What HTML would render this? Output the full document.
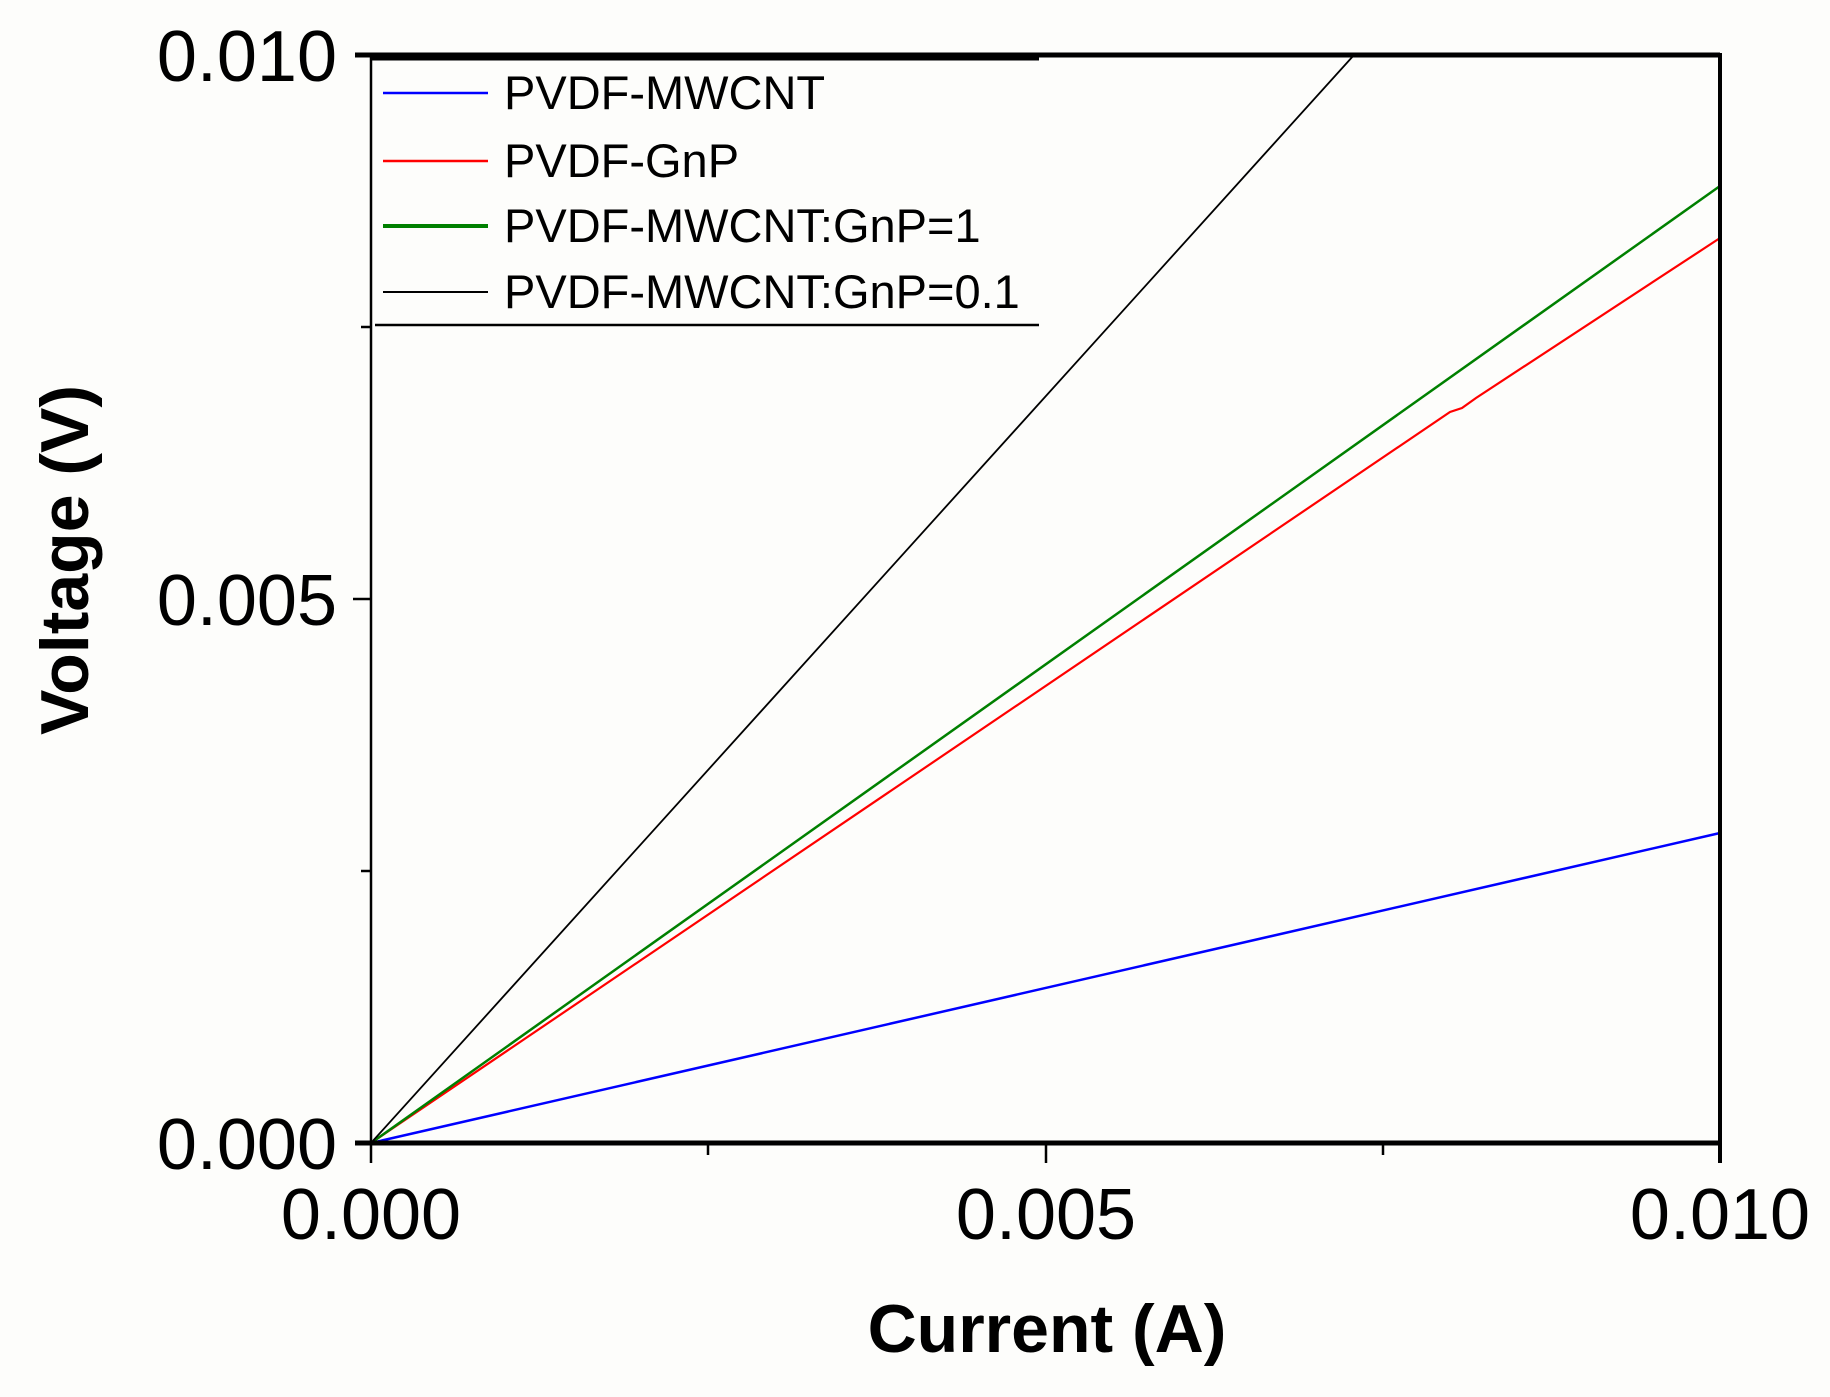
<!DOCTYPE html>
<html><head><meta charset="utf-8"><style>
html,body{margin:0;padding:0;background:#fdfdfb;}
svg{display:block;}
text{font-family:"Liberation Sans",Arial,sans-serif;fill:#000;}
</style></head><body>
<svg width="1830" height="1397" viewBox="0 0 1830 1397" xmlns="http://www.w3.org/2000/svg">
<rect width="1830" height="1397" fill="#fdfdfb"/>
<!-- series -->
<polyline fill="none" stroke="#0000ff" stroke-width="2.5" points="371,1143 1720,833"/>
<polyline fill="none" stroke="#ff0000" stroke-width="2.2" points="371,1143 1450,412 1462,408 1476,398 1720,238"/>
<polyline fill="none" stroke="#008000" stroke-width="2.5" points="371,1143 1720,186"/>
<polyline fill="none" stroke="#000000" stroke-width="1.8" points="371,1143 1354,55"/>
<!-- legend -->
<rect x="371" y="55" width="668" height="270" fill="#fdfdfb"/>
<line x1="371" y1="59" x2="1039" y2="59" stroke="#000" stroke-width="3"/>
<line x1="375" y1="325" x2="1039" y2="325" stroke="#000" stroke-width="2.5"/>
<line x1="383" y1="93" x2="488" y2="93" stroke="#0000ff" stroke-width="2.5"/>
<line x1="383" y1="161" x2="488" y2="161" stroke="#ff0000" stroke-width="2.5"/>
<line x1="383" y1="226" x2="488" y2="226" stroke="#008000" stroke-width="4"/>
<line x1="383" y1="292" x2="488" y2="292" stroke="#000" stroke-width="2"/>
<g font-size="47">
<text x="504" y="109">PVDF-MWCNT</text>
<text x="504" y="177">PVDF-GnP</text>
<text x="504" y="242">PVDF-MWCNT:GnP=1</text>
<text x="504" y="308">PVDF-MWCNT:GnP=0.1</text>
</g>
<!-- axes -->
<line x1="355" y1="55" x2="1720" y2="55" stroke="#000" stroke-width="5"/>
<line x1="371" y1="53" x2="371" y2="1145" stroke="#000" stroke-width="2.5"/>
<line x1="1720" y1="53" x2="1720" y2="1163" stroke="#000" stroke-width="4"/>
<line x1="355" y1="1143" x2="1722" y2="1143" stroke="#000" stroke-width="5"/>
<!-- x ticks -->
<line x1="371" y1="1143" x2="371" y2="1163" stroke="#000" stroke-width="2.5"/>
<line x1="1046" y1="1143" x2="1046" y2="1163" stroke="#000" stroke-width="2.5"/>
<line x1="708" y1="1143" x2="708" y2="1155" stroke="#000" stroke-width="2.5"/>
<line x1="1383" y1="1143" x2="1383" y2="1155" stroke="#000" stroke-width="2.5"/>
<!-- y ticks -->
<line x1="353" y1="599" x2="371" y2="599" stroke="#000" stroke-width="2.5"/>
<line x1="361" y1="327" x2="371" y2="327" stroke="#000" stroke-width="2.5"/>
<line x1="361" y1="871" x2="371" y2="871" stroke="#000" stroke-width="2.5"/>
<!-- tick labels -->
<g font-size="72">
<text x="337" y="81" text-anchor="end">0.010</text>
<text x="337" y="625" text-anchor="end">0.005</text>
<text x="337" y="1169" text-anchor="end">0.000</text>
<text x="371" y="1239" text-anchor="middle">0.000</text>
<text x="1046" y="1239" text-anchor="middle">0.005</text>
<text x="1720" y="1239" text-anchor="middle">0.010</text>
</g>
<text x="1047" y="1352" font-size="68" font-weight="bold" text-anchor="middle">Current (A)</text>
<text transform="translate(88,560) rotate(-90)" font-size="68" font-weight="bold" text-anchor="middle">Voltage (V)</text>
</svg>
</body></html>
